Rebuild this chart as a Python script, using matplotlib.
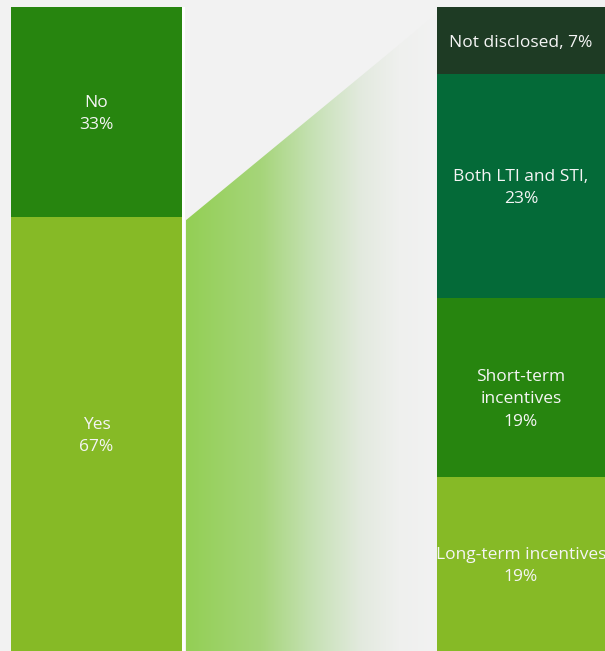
import numpy as np
import matplotlib.pyplot as plt
from matplotlib.patches import Polygon
from matplotlib.colors import LinearSegmentedColormap

plt.rcParams['font.family'] = ['Open Sans', 'DejaVu Sans']

# 左边：是否披露
left_labels = ['Yes\n67%', 'No\n33%']
left_values = [67.4, 32.6]
left_colors = ['#86ba26', '#27850f']

# 右边：Yes 的细分（按柱高归一化）
right_labels = ['Long-term incentives\n19%', 'Short-term\nincentives\n19%',
                'Both LTI and STI,\n23%', 'Not disclosed, 7%']
right_values = [18.4, 18.9, 23.6, 7.1]
right_colors = ['#86ba26', '#27850f', '#046a38', '#1e3b24']

bg = '#f2f2f2'
fig = plt.figure(figsize=(6.05, 6.51), dpi=100, facecolor=bg)
ax = fig.add_axes([0, 0, 1, 1])
ax.set_facecolor(bg)
top = 100 * 651 / 644
ax.axis('off')

# 左柱
bottom = 0
for lab, v, c in zip(left_labels, left_values, left_colors):
    ax.bar(96.5, v, width=171, bottom=bottom, color=c, linewidth=0, zorder=2)
    ax.text(96.5, bottom + v / 2 - 0.3, lab, ha='center', va='center', color='#f5f5f5',
            fontsize=12.5, linespacing=1.55, zorder=3)
    bottom += v

# 右柱
total = sum(right_values)
bottom = 0
for lab, v, c in zip(right_labels, right_values, right_colors):
    h = v / total * 100
    y = bottom + h / 2 - 0.3
    if lab.startswith('Short'):
        y -= 1.6  # 原图这一段文字偏下
    ax.bar(437 + 84, h, width=168, bottom=bottom, color=c, linewidth=0, zorder=2)
    ax.text(437 + 84, y, lab, ha='center', va='center', color='#f5f5f5',
            fontsize=12.5, linespacing=1.55, zorder=3)
    bottom += h

# 白色分隔线
ax.bar(183.5, 100, width=3, bottom=0, color='white', linewidth=0, zorder=2)

# 渐变连接区域
poly = Polygon([(186, 0), (186, left_values[0] - 0.5), (437, 99), (437, 0)],
               closed=True, facecolor='none', edgecolor='none')
ax.add_patch(poly)
cmap = LinearSegmentedColormap.from_list(
    'g', [(0, '#93cf55'), (0.3, '#a6d57a'), (0.5, '#c5e1b3'),
          (0.7, '#e3eadf'), (0.85, '#eff0ee'), (1, '#f2f2f2')])
grad = np.linspace(0, 1, 256).reshape(1, -1)
im = ax.imshow(grad, cmap=cmap, extent=[186, 437, 0, 100], aspect='auto', zorder=1)
im.set_clip_path(poly)
ax.set_xlim(0, 605)
ax.set_ylim(0, top)

fig.savefig('out.png', dpi=100, facecolor=bg)
